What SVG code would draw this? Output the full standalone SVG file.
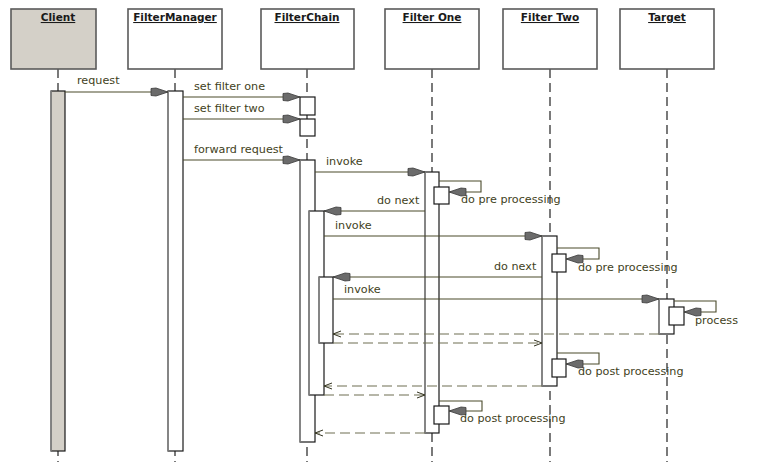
<svg xmlns="http://www.w3.org/2000/svg" width="766" height="462" viewBox="0 0 766 462">
<style>
.hdr{fill:#ffffff;stroke:#5a5a5a;stroke-width:1.6}
.htxt{font-family:"DejaVu Sans",Verdana,sans-serif;font-size:10.5px;font-weight:bold;fill:#1a1a1a;text-anchor:middle;text-decoration:underline}
.life{stroke:#222;stroke-width:1.2;stroke-dasharray:9 5;fill:none}
.act{fill:#ffffff;stroke:#1a1a1a;stroke-width:1.2}
.actl{stroke:#8a8a8a;stroke-width:1.6}
.msg{stroke:#4a4a2a;stroke-width:1.1;fill:none;marker-end:url(#fa)}
.ret{stroke:#6f6f52;stroke-width:1.1;fill:none;stroke-dasharray:10 5;marker-end:url(#oa)}
.lbl{font-family:"DejaVu Sans",Verdana,sans-serif;font-size:11.2px;fill:#3f3f22}
</style>
<defs>
<marker id="fa" viewBox="-19 -6 20 12" refX="0" refY="0" markerWidth="20" markerHeight="12" orient="auto" markerUnits="userSpaceOnUse">
<path d="M0,0 L-12,-4 L-17,-3.5 L-17,3.5 L-12,4 Z" fill="#6b6b6b" stroke="#3b3b3b" stroke-width="0.8"/>
</marker>
<marker id="oa" viewBox="-10 -5 11 10" refX="0" refY="0" markerWidth="11" markerHeight="10" orient="auto" markerUnits="userSpaceOnUse">
<path d="M-8,-3 L0,0 L-8,3" fill="none" stroke="#33331f" stroke-width="1"/>
</marker>
</defs>

<g id="lifelines">
<line class="life" x1="58" y1="69" x2="58" y2="462"/>
<line class="life" x1="175" y1="69" x2="175" y2="462"/>
<line class="life" x1="307" y1="69" x2="307" y2="462"/>
<line class="life" x1="432" y1="69" x2="432" y2="462"/>
<line class="life" x1="550" y1="69" x2="550" y2="462"/>
<line class="life" x1="667" y1="69" x2="667" y2="462"/>
</g>

<g id="client">
<rect class="hdr" x="11" y="9" width="85" height="60" style="fill:#d4d0c8"/>
<text class="htxt" x="58" y="21">Client</text>
<rect class="act" x="51" y="91" width="14" height="360" style="fill:#d4d0c8"/>
<line class="actl" x1="51" y1="91" x2="51" y2="451"/>
</g>

<g id="filtermanager">
<rect class="hdr" x="128" y="9" width="94" height="60"/>
<text class="htxt" x="175" y="21">FilterManager</text>
<rect class="act" x="168" y="91" width="15" height="360"/>
<line class="actl" x1="168" y1="91" x2="168" y2="451"/>
</g>

<g id="filterchain">
<rect class="hdr" x="261" y="9" width="93" height="60"/>
<text class="htxt" x="307" y="21">FilterChain</text>
<rect class="act" x="300" y="97" width="15" height="18"/>
<rect class="act" x="300" y="119" width="15" height="17"/>
<rect class="act" x="300" y="160" width="15" height="282"/>
<line class="actl" x1="300" y1="160" x2="300" y2="442"/>
<rect class="act" x="309" y="211" width="15" height="184"/>
<line class="actl" x1="309" y1="211" x2="309" y2="395"/>
<rect class="act" x="319" y="277" width="14" height="66"/>
<line class="actl" x1="319" y1="277" x2="319" y2="343"/>
</g>

<g id="filterone">
<rect class="hdr" x="385" y="9" width="94" height="60"/>
<text class="htxt" x="432" y="21">Filter One</text>
<rect class="act" x="425" y="172" width="14" height="261"/>
<line class="actl" x1="425" y1="172" x2="425" y2="433"/>
<rect class="act" x="434" y="187" width="15" height="17"/>
<rect class="act" x="434" y="406" width="15" height="18"/>
</g>

<g id="filtertwo">
<rect class="hdr" x="503" y="9" width="94" height="60"/>
<text class="htxt" x="550" y="21">Filter Two</text>
<rect class="act" x="542" y="236" width="15" height="150"/>
<line class="actl" x1="542" y1="236" x2="542" y2="386"/>
<rect class="act" x="552" y="254" width="14" height="18"/>
<rect class="act" x="552" y="359" width="14" height="18"/>
</g>

<g id="target">
<rect class="hdr" x="620" y="9" width="94" height="60"/>
<text class="htxt" x="667" y="21">Target</text>
<rect class="act" x="659" y="299" width="15" height="35"/>
<line class="actl" x1="659" y1="299" x2="659" y2="334"/>
<rect class="act" x="669" y="307" width="15" height="18"/>
</g>

<g id="connectors">
<line class="msg" x1="65" y1="92" x2="168" y2="92"/>
<line class="msg" x1="183" y1="97" x2="300" y2="97"/>
<line class="msg" x1="183" y1="119" x2="300" y2="119"/>
<line class="msg" x1="183" y1="160" x2="300" y2="160"/>
<line class="msg" x1="315" y1="172" x2="425" y2="172"/>
<path class="msg" d="M439,181 H481 V192 H449"/>
<line class="msg" x1="425" y1="211" x2="324" y2="211"/>
<line class="msg" x1="324" y1="236" x2="542" y2="236"/>
<path class="msg" d="M557,248 H599 V259 H566"/>
<line class="msg" x1="542" y1="277" x2="333" y2="277"/>
<line class="msg" x1="333" y1="299" x2="659" y2="299"/>
<path class="msg" d="M674,301 H716 V312 H684"/>
<line class="ret" x1="659" y1="334" x2="333" y2="334"/>
<line class="ret" x1="333" y1="343" x2="542" y2="343"/>
<path class="msg" d="M557,353 H599 V364 H566"/>
<line class="ret" x1="542" y1="386" x2="324" y2="386"/>
<line class="ret" x1="324" y1="395" x2="425" y2="395"/>
<path class="msg" d="M439,401 H482 V411 H449"/>
<line class="ret" x1="425" y1="433" x2="315" y2="433"/>
</g>

<g id="labels">
<text class="lbl" x="77" y="84">request</text>
<text class="lbl" x="194" y="90">set filter one</text>
<text class="lbl" x="194" y="112">set filter two</text>
<text class="lbl" x="194" y="153">forward request</text>
<text class="lbl" x="326" y="165">invoke</text>
<text class="lbl" x="461" y="203">do pre processing</text>
<text class="lbl" x="377" y="204">do next</text>
<text class="lbl" x="335" y="229">invoke</text>
<text class="lbl" x="578" y="271">do pre processing</text>
<text class="lbl" x="494" y="270">do next</text>
<text class="lbl" x="344" y="293">invoke</text>
<text class="lbl" x="695" y="324">process</text>
<text class="lbl" x="578" y="375">do post processing</text>
<text class="lbl" x="460" y="422">do post processing</text>
</g>
</svg>
